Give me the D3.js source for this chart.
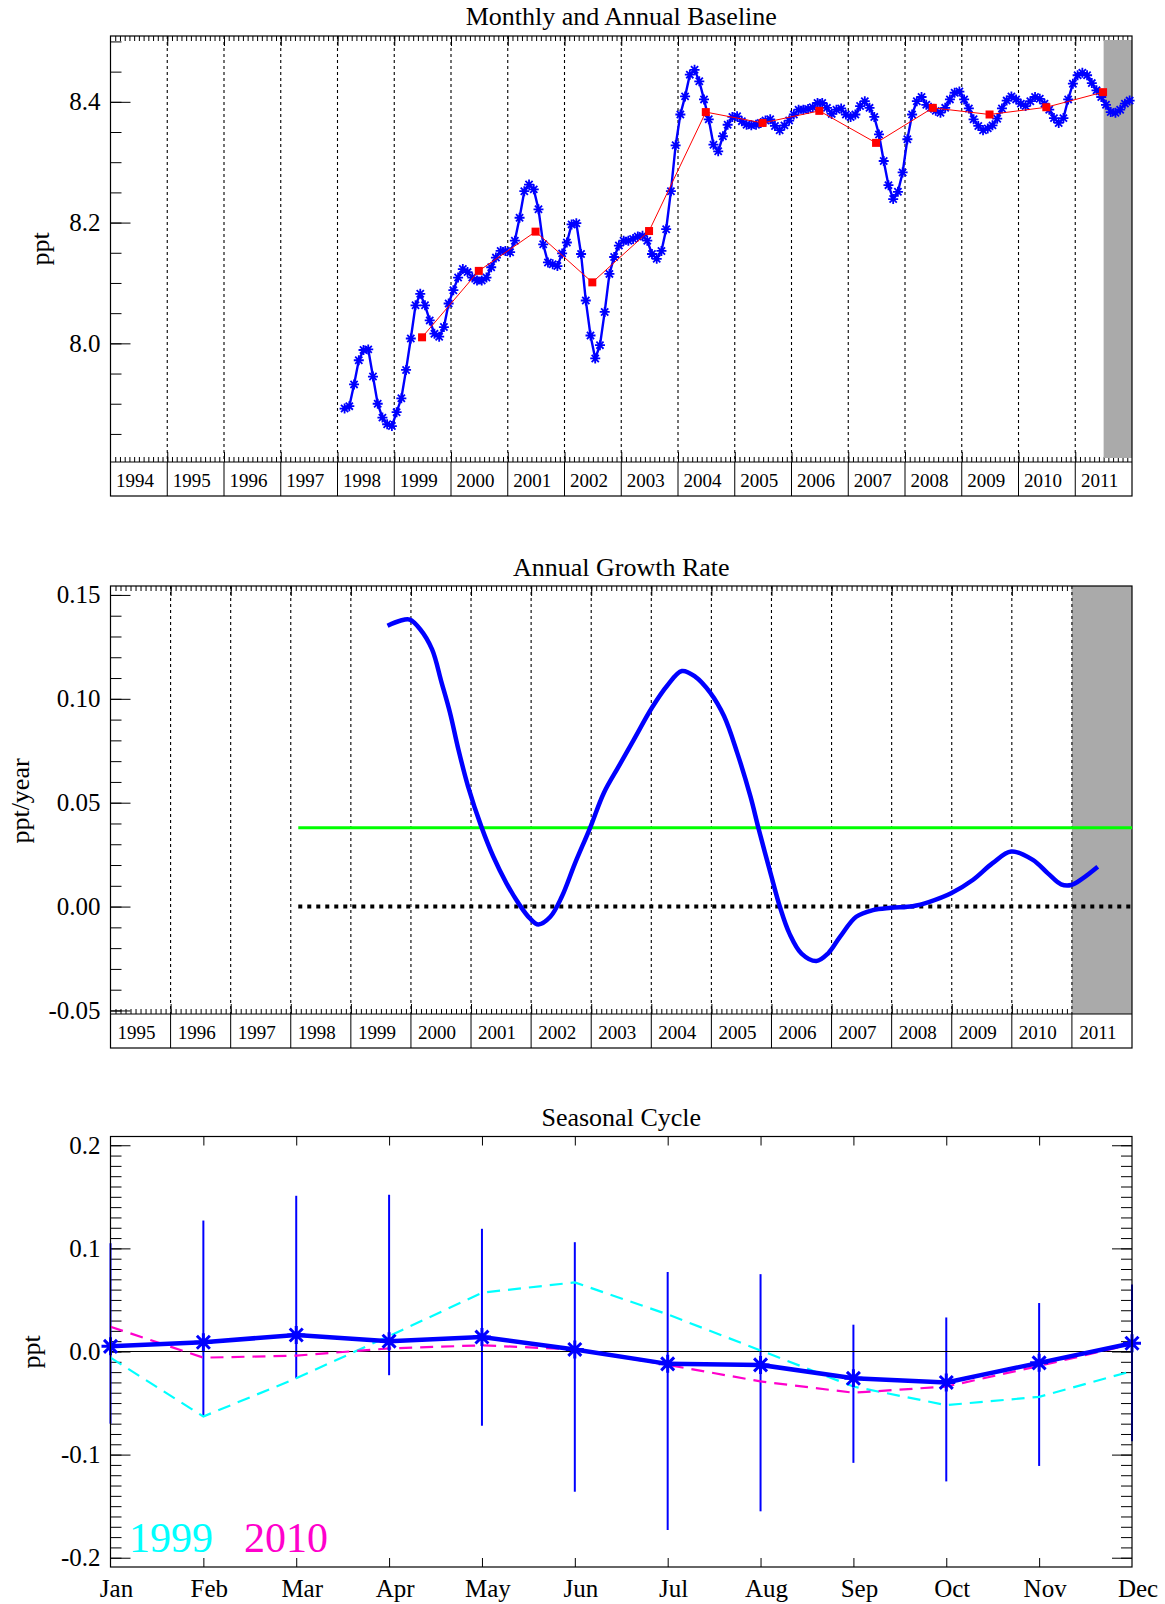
<!DOCTYPE html>
<html lang="en">
<head>
<meta charset="UTF-8">
<title>Monthly and Annual Baseline / Annual Growth Rate / Seasonal Cycle</title>
<script src="https://cdnjs.cloudflare.com/ajax/libs/d3/7.8.5/d3.min.js"></script>
<style>
  body { margin: 0; background: #ffffff; }
  svg { display: block; font-family: 'Liberation Serif', 'Times New Roman', serif; }
</style>
</head>
<body>
<svg id="chart" width="1165" height="1604"></svg>
<script>
// ---- data ----

// monthly baseline (ppt), first value is Feb 1998, last is Dec 2011
const baselineStart = [1998, 2];
const baselineMonthly = [
  7.892, 7.896, 7.932, 7.972, 7.989, 7.990, 7.945, 7.900, 7.877, 7.866, 7.863,
  7.886, 7.909, 7.956, 8.008, 8.063, 8.082, 8.063, 8.038, 8.016, 8.011, 8.027, 8.066,
  8.088, 8.109, 8.123, 8.118, 8.109, 8.104, 8.104, 8.109, 8.126, 8.142, 8.153, 8.153,
  8.151, 8.170, 8.208, 8.252, 8.263, 8.255, 8.222, 8.164, 8.134, 8.131, 8.128, 8.149,
  8.167, 8.197, 8.199, 8.148, 8.071, 8.013, 7.975, 7.997, 8.052, 8.115, 8.143, 8.162,
  8.170, 8.170, 8.173, 8.177, 8.178, 8.170, 8.148, 8.140, 8.153, 8.189, 8.252, 8.328,
  8.379, 8.409, 8.445, 8.453, 8.434, 8.404, 8.371, 8.329, 8.318, 8.343, 8.362, 8.375,
  8.376, 8.368, 8.362, 8.361, 8.362, 8.365, 8.369, 8.371, 8.360, 8.353, 8.361, 8.369,
  8.379, 8.387, 8.387, 8.388, 8.391, 8.398, 8.398, 8.390, 8.380, 8.387, 8.389, 8.379,
  8.375, 8.379, 8.393, 8.401, 8.390, 8.375, 8.346, 8.302, 8.262, 8.239, 8.251, 8.283,
  8.338, 8.379, 8.401, 8.408, 8.395, 8.390, 8.385, 8.382, 8.390, 8.404, 8.415, 8.417,
  8.404, 8.389, 8.371, 8.360, 8.353, 8.356, 8.361, 8.372, 8.389, 8.402, 8.409, 8.404,
  8.397, 8.393, 8.401, 8.408, 8.405, 8.397, 8.387, 8.373, 8.365, 8.373, 8.404, 8.430,
  8.444, 8.448, 8.444, 8.431, 8.419, 8.408, 8.395, 8.383, 8.382, 8.387, 8.397, 8.402
];

// annual means (ppt)
const annualYears = [1999, 2000, 2001, 2002, 2003, 2004, 2005, 2006, 2007, 2008, 2009, 2010, 2011];
const annualMeans = [8.010, 8.120, 8.185, 8.101, 8.186, 8.383, 8.365, 8.385, 8.332, 8.390, 8.379, 8.391, 8.416];

// annual growth rate (ppt/year)
const growthYear = [1999.61, 1999.82, 1999.98, 2000.15, 2000.35, 2000.51, 2000.65, 2000.79, 2000.95,
  2001.17, 2001.37, 2001.59, 2001.81, 2001.98, 2002.12, 2002.32, 2002.51, 2002.73, 2002.98,
  2003.21, 2003.46, 2003.71, 2004.01, 2004.26, 2004.51, 2004.73, 2004.98, 2005.21, 2005.43,
  2005.65, 2005.79, 2006.00, 2006.14, 2006.30, 2006.50, 2006.75, 2006.94, 2007.14, 2007.41,
  2007.69, 2007.99, 2008.35, 2008.63, 2008.99, 2009.35, 2009.68, 2009.99, 2010.35, 2010.60,
  2010.82, 2010.99, 2011.18, 2011.43];
const growthRate = [0.1352, 0.1376, 0.1381, 0.1336, 0.1239, 0.1078, 0.0933, 0.0756, 0.0579,
  0.0386, 0.0241, 0.0112, 0.0007, -0.0057, -0.0086, -0.0049, 0.0047, 0.0208, 0.0378,
  0.0547, 0.0676, 0.0804, 0.0957, 0.1062, 0.1134, 0.1107, 0.1030, 0.0917, 0.0740,
  0.0530, 0.0370, 0.0144, -0.0001, -0.0130, -0.0226, -0.0262, -0.0226, -0.0146, -0.0049,
  -0.0017, -0.0006, 0.0002, 0.0023, 0.0064, 0.0128, 0.0209, 0.0265, 0.0225, 0.0160,
  0.0107, 0.0104, 0.0136, 0.0192];
const meanGrowth = 0.038;
const growthRefStart = 1998.125;

// seasonal cycle (ppt)
const monthNames = ["Jan", "Feb", "Mar", "Apr", "May", "Jun", "Jul", "Aug", "Sep", "Oct", "Nov", "Dec"];
const seasonalMean = [0.005, 0.009, 0.016, 0.010, 0.014, 0.002, -0.012, -0.013, -0.026, -0.030, -0.011, 0.008];
const seasonalHi = [0.105, 0.127, 0.151, 0.152, 0.119, 0.106, 0.077, 0.075, 0.026, 0.033, 0.047, 0.065];
const seasonalLo = [-0.070, -0.063, -0.026, -0.023, -0.072, -0.136, -0.173, -0.155, -0.108, -0.126, -0.111, -0.087];
const cycle1999 = [-0.006, -0.063, -0.026, 0.015, 0.057, 0.067, 0.036, 0.001, -0.034, -0.052, -0.044, -0.019];
const cycle2010 = [0.024, -0.006, -0.004, 0.003, 0.006, 0.002, -0.013, -0.029, -0.040, -0.034, -0.014, 0.007];

// ---- layout ----
const svg = d3.select("#chart");
const SERIF = "'Liberation Serif', 'Times New Roman', serif";
const left = 110.5, right = 1132;
const P1 = {top: 36, bottom: 462, box: 496};
const P2 = {top: 586, bottom: 1014, box: 1048};
const P3 = {top: 1136.5, bottom: 1567};

const x1 = d3.scaleLinear().domain([1994, 2012]).range([left, right]);
const y1 = d3.scaleLinear().domain([7.8035, 8.509]).range([P1.bottom, P1.top]);
const x2 = d3.scaleLinear().domain([1995, 2012]).range([left, right]);
const y2 = d3.scaleLinear().domain([-0.0517, 0.1543]).range([P2.bottom, P2.top]);
const x3 = d3.scaleLinear().domain([1, 12]).range([left, right]);
const y3 = d3.scaleLinear().domain([-0.209, 0.2085]).range([P3.bottom, P3.top]);

// IDL style labels use a plain hyphen for negatives
const fmt = p => d => d3.format(p)(d).replace("\u2212", "-");

function styleAxis(g, size) {
  g.attr("font-family", SERIF).attr("font-size", size).attr("color", "#000");
  g.select(".domain").remove();
  g.selectAll("line").attr("stroke-width", 1);
}

function title(text, y) {
  svg.append("text").attr("x", (left + right) / 2).attr("y", y)
    .attr("text-anchor", "middle").attr("font-size", 26).text(text);
}

function yTitle(text, x, y) {
  svg.append("text").attr("transform", `translate(${x},${y}) rotate(-90)`)
    .attr("text-anchor", "middle").attr("font-size", 26).text(text);
}

function yAxes(y, major, minor, f) {
  svg.append("g").attr("transform", `translate(${left},0)`)
    .call(d3.axisLeft(y).tickValues(minor).tickSize(-11).tickFormat(""))
    .call(g => styleAxis(g, 25));
  svg.append("g").attr("transform", `translate(${left},0)`)
    .call(d3.axisLeft(y).tickValues(major).tickSize(-20).tickPadding(10).tickFormat(f))
    .call(g => styleAxis(g, 25));
}

// frame, month ticks, year box and grid for the two time panels
function timeFrame(x, P, shade) {
  const [a, b] = x.domain();
  const months = d3.range(a * 12 + 1, b * 12).map(i => i / 12);
  const years = d3.range(a + 1, b);
  const tick = (vals, size, at, up) => svg.append("g")
    .attr("transform", `translate(0,${at})`)
    .call((up ? d3.axisTop(x) : d3.axisBottom(x)).tickValues(vals).tickSize(size).tickFormat(""))
    .call(g => styleAxis(g, 10));
  tick(months, 5, P.top, false);
  tick(years, 10, P.top, false);
  tick(months, 5, P.bottom, true);
  tick(years, 10, P.bottom, true);

  svg.append("rect")
    .attr("x", x(shade.from)).attr("y", P.top + shade.inset)
    .attr("width", x(b) - x(shade.from)).attr("height", P.bottom - P.top - 2 * shade.inset)
    .attr("fill", "#aaaaaa");

  svg.append("g").selectAll("line").data(years).join("line")
    .attr("x1", d => x(d)).attr("x2", d => x(d))
    .attr("y1", P.top).attr("y2", P.bottom)
    .attr("stroke", "#000").attr("stroke-width", 1.1).attr("stroke-dasharray", "3,3");

  // year box underneath
  svg.append("g").selectAll("line").data(years).join("line")
    .attr("x1", d => x(d)).attr("x2", d => x(d))
    .attr("y1", P.bottom).attr("y2", P.box)
    .attr("stroke", "#000").attr("stroke-width", 1);
  svg.append("g").selectAll("text").data(d3.range(a, b)).join("text")
    .attr("x", d => x(d + 0.5) - 4).attr("y", P.box - 9)
    .attr("text-anchor", "middle").attr("font-size", 19).text(d => d);
  svg.append("rect").attr("x", left).attr("y", P.top)
    .attr("width", right - left).attr("height", P.box - P.top)
    .attr("fill", "none").attr("stroke", "#000").attr("stroke-width", 1.2);
  svg.append("line").attr("x1", left).attr("x2", right)
    .attr("y1", P.bottom).attr("y2", P.bottom).attr("stroke", "#000").attr("stroke-width", 1.2);
}

function asterisk(r) {
  const d = r * 0.72;
  return `M${-r},0H${r}M0,${-r}V${r}M${-d},${-d}L${d},${d}M${-d},${d}L${d},${-d}`;
}

// ---- panel 1: monthly and annual baseline ----
title("Monthly and Annual Baseline", 25);
yTitle("ppt", 49, 249);
yAxes(y1, [8.0, 8.2, 8.4], d3.range(157, 171).map(i => i * 0.05), fmt(".1f"));
timeFrame(x1, P1, {from: 2011.5, inset: 4});

const monthly = baselineMonthly.map((v, i) => {
  const m = baselineStart[1] - 1 + i;
  return {t: baselineStart[0] + Math.floor(m / 12) + ((m % 12) + 0.5) / 12, v};
});
svg.append("path").datum(monthly)
  .attr("d", d3.line().x(d => x1(d.t)).y(d => y1(d.v)))
  .attr("fill", "none").attr("stroke", "#0000ff").attr("stroke-width", 2.4);
svg.append("g").selectAll("path").data(monthly).join("path")
  .attr("transform", d => `translate(${x1(d.t)},${y1(d.v)})`)
  .attr("d", asterisk(5)).attr("stroke", "#0000ff").attr("stroke-width", 1.8).attr("fill", "none");

const annual = annualYears.map((yr, i) => ({t: yr + 0.49, v: annualMeans[i]}));
svg.append("path").datum(annual)
  .attr("d", d3.line().x(d => x1(d.t)).y(d => y1(d.v)))
  .attr("fill", "none").attr("stroke", "#ff0000").attr("stroke-width", 1);
svg.append("g").selectAll("rect").data(annual).join("rect")
  .attr("x", d => x1(d.t) - 4).attr("y", d => y1(d.v) - 4)
  .attr("width", 8).attr("height", 8).attr("fill", "#ff0000");

// ---- panel 2: annual growth rate ----
title("Annual Growth Rate", 576);
yTitle("ppt/year", 29, 801);
yAxes(y2, [-0.05, 0, 0.05, 0.10, 0.15], d3.range(-5, 16).map(i => i / 100), fmt(".2f"));
timeFrame(x2, P2, {from: 2011, inset: 0});

svg.append("line")
  .attr("x1", x2(growthRefStart)).attr("x2", x2(2012))
  .attr("y1", y2(0)).attr("y2", y2(0))
  .attr("stroke", "#000").attr("stroke-width", 4).attr("stroke-dasharray", "4,5");
svg.append("line")
  .attr("x1", x2(growthRefStart)).attr("x2", x2(2012))
  .attr("y1", y2(meanGrowth)).attr("y2", y2(meanGrowth))
  .attr("stroke", "#00ff00").attr("stroke-width", 3);
svg.append("path").datum(growthYear.map((t, i) => [t, growthRate[i]]))
  .attr("d", d3.line().x(d => x2(d[0])).y(d => y2(d[1])).curve(d3.curveCatmullRom.alpha(0.5)))
  .attr("fill", "none").attr("stroke", "#0000ff").attr("stroke-width", 4.5)
  .attr("stroke-linejoin", "round");

// ---- panel 3: seasonal cycle ----
title("Seasonal Cycle", 1126);
yTitle("ppt", 40, 1352);
const mNum = d3.range(1, 13);
const minor3 = d3.range(-20, 21).map(i => i / 100);
const major3 = [-0.2, -0.1, 0, 0.1, 0.2];
yAxes(y3, major3, minor3, fmt(".1f"));
svg.append("g").attr("transform", `translate(${right},0)`)
  .call(d3.axisRight(y3).tickValues(minor3).tickSize(-11).tickFormat(""))
  .call(g => styleAxis(g, 10));
svg.append("g").attr("transform", `translate(${right},0)`)
  .call(d3.axisRight(y3).tickValues(major3).tickSize(-20).tickFormat(""))
  .call(g => styleAxis(g, 10));
svg.append("g").attr("transform", `translate(0,${P3.top})`)
  .call(d3.axisBottom(x3).tickValues(mNum.slice(1, 11)).tickSize(9).tickFormat(""))
  .call(g => styleAxis(g, 10));
svg.append("g").attr("transform", `translate(0,${P3.bottom})`)
  .call(d3.axisTop(x3).tickValues(mNum.slice(1, 11)).tickSize(9).tickFormat(""))
  .call(g => styleAxis(g, 10));
svg.append("g").selectAll("text").data(mNum).join("text")
  .attr("x", d => x3(d) + 6).attr("y", 1597)
  .attr("text-anchor", "middle").attr("font-size", 25).text(d => monthNames[d - 1]);

svg.append("g").selectAll("line").data(mNum).join("line")
  .attr("x1", d => x3(d)).attr("x2", d => x3(d))
  .attr("y1", d => y3(seasonalHi[d - 1])).attr("y2", d => y3(seasonalLo[d - 1]))
  .attr("stroke", "#0000ff").attr("stroke-width", 2);

svg.append("line").attr("x1", left).attr("x2", right)
  .attr("y1", y3(0)).attr("y2", y3(0)).attr("stroke", "#000").attr("stroke-width", 1.2);

const cycLine = d3.line().x((d, i) => x3(i + 1)).y(d => y3(d));
svg.append("path").datum(cycle1999).attr("d", cycLine)
  .attr("fill", "none").attr("stroke", "#00ffff").attr("stroke-width", 2.2).attr("stroke-dasharray", "13,8");
svg.append("path").datum(cycle2010).attr("d", cycLine)
  .attr("fill", "none").attr("stroke", "#ff00cc").attr("stroke-width", 2.2).attr("stroke-dasharray", "13,8");
svg.append("path").datum(seasonalMean).attr("d", cycLine)
  .attr("fill", "none").attr("stroke", "#0000ff").attr("stroke-width", 4.5);
svg.append("g").selectAll("path").data(seasonalMean).join("path")
  .attr("transform", (d, i) => `translate(${x3(i + 1)},${y3(d)})`)
  .attr("d", asterisk(9)).attr("stroke", "#0000ff").attr("stroke-width", 3).attr("fill", "none");

svg.append("rect").attr("x", left).attr("y", P3.top)
  .attr("width", right - left).attr("height", P3.bottom - P3.top)
  .attr("fill", "none").attr("stroke", "#000").attr("stroke-width", 1.2);

svg.append("text").attr("x", 129).attr("y", 1552).attr("font-size", 42)
  .attr("fill", "#00ffff").text("1999");
svg.append("text").attr("x", 244).attr("y", 1552).attr("font-size", 42)
  .attr("fill", "#ff00cc").text("2010");
</script>
</body>
</html>
